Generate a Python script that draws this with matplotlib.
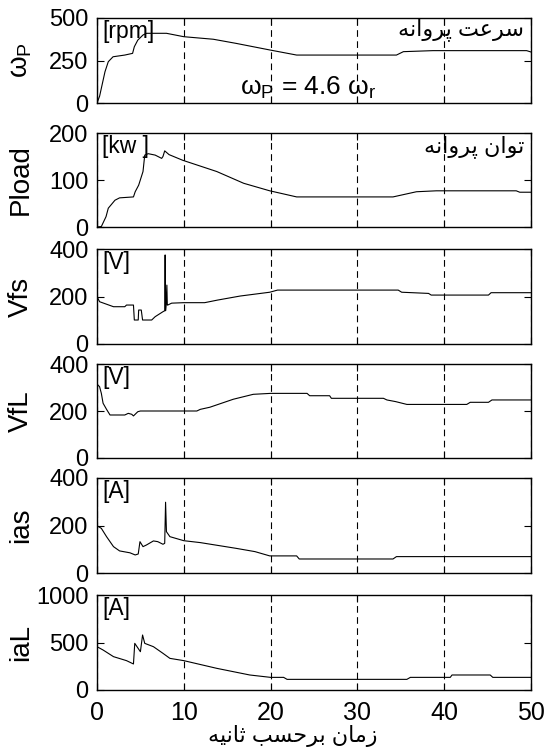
import matplotlib
matplotlib.use("Agg")
import matplotlib.pyplot as plt

plt.rcParams['font.family'] = ['Liberation Sans', 'DejaVu Sans']
plt.rcParams['mathtext.fontset'] = 'custom'
plt.rcParams['mathtext.rm'] = 'Liberation Sans'
plt.rcParams['mathtext.it'] = 'Liberation Sans:italic'
plt.rcParams['mathtext.bf'] = 'Liberation Sans:bold'

# ---- data ----
t_wp = [0, 0.3, 0.54, 0.92, 1.3, 1.85, 3.2, 4.1, 4.3, 4.7, 5.3, 5.7, 6.5, 8.0, 10, 13.4, 16, 19.9,
        23, 34.5, 35.3, 38.7, 49.5, 50]
wp = [0, 40, 96, 184, 243, 272, 282, 292, 331, 370, 400, 410, 410, 410, 390, 375, 351, 312,
      282, 282, 302, 308, 308, 300]

t_pload = [0, 0.5, 1.04, 1.3, 2.07, 2.6, 4.2, 4.4, 4.8, 5.3, 5.5, 5.9, 6.7, 7.45, 7.6, 7.8, 8.3,
           9.87, 13.8, 16.9, 19.9, 21.1, 23, 34.1, 36.8, 39.1, 48.3, 48.7, 50]
pload = [0, 1, 22, 40, 57, 62, 64, 75, 89, 118, 153, 156, 153, 146, 150, 162, 154,
         142, 118, 93, 77, 72, 64, 64, 75, 77, 77, 74, 74]

t_vfs = [0, 0.3, 1.9, 3.2, 3.4, 4.2, 4.3, 4.75, 4.8, 4.95, 5.1, 5.25, 6.3, 6.7, 7.6, 7.8, 7.85,
         7.9, 7.95, 8.05, 8.1, 8.15, 8.6, 10, 12.4, 13.9, 16.5, 19.9, 20.8, 34.7, 35.1, 38.2,
         38.5, 45.1, 45.4, 50]
vfs = [199, 178, 157, 157, 164, 164, 101, 101, 143, 143, 143, 101, 101, 115, 136, 140, 375,
       140, 160, 248, 164, 164, 172, 174, 174, 185, 202, 218, 227, 227, 218, 213,
       206, 206, 216, 216]

t_vfl = [0, 0.3, 0.5, 0.7, 1.1, 1.5, 3.2, 3.6, 4.0, 4.2, 4.7, 5.0, 11.5, 11.9, 13, 15.7, 18, 20,
         24.2, 24.5, 26.8, 27, 33, 33.4, 34.4, 35.7, 42.6, 43, 45.1, 45.5, 50]
vfl = [315, 303, 275, 233, 207, 183, 183, 190, 186, 179, 197, 200, 200, 207, 216, 250, 271, 275,
       275, 265, 265, 254, 254, 247, 240, 228, 228, 237, 237, 247, 247]

t_ias = [0, 0.5, 1.1, 1.9, 2.6, 3.8, 4.4, 4.75, 4.95, 5.3, 5.7, 6.5, 7.0, 7.6, 7.8, 7.9, 8.0,
         8.4, 10, 11.9, 16, 18.2, 19.9, 23, 23.3, 34.1, 34.5, 50]
ias = [199, 188, 153, 111, 93, 85, 76, 80, 132, 111, 118, 135, 132, 121, 125, 298, 174,
       153, 136, 128, 104, 90, 72, 72, 59, 59, 69, 69]

t_ial = [0, 0.7, 1.9, 3.4, 4.2, 4.35, 5.0, 5.25, 5.5, 6.5, 7.6, 8.4, 10, 13.8, 17.6, 20, 21.5,
         21.9, 35.7, 36.1, 40.7, 40.9, 45.3, 45.6, 50]
ial = [456, 421, 351, 309, 274, 491, 403, 579, 491, 456, 386, 333, 309, 228, 158, 133, 133,
       112, 112, 133, 133, 158, 158, 133, 133]

ylabels = [r'$\mathrm{\omega}_\mathrm{P}$', 'Pload', 'Vfs', 'VfL', 'ias', 'iaL']
units = ['[rpm]', '[kw ]', '[V]', '[V]', '[A]', '[A]']
yticks = [[0, 250, 500], [0, 100, 200], [0, 200, 400], [0, 200, 400], [0, 200, 400],
          [0, 500, 1000]]
xticks = [0, 10, 20, 30, 40, 50]

title_speed = 'سرعت پروانه'
title_power = 'توان پروانه'
xlabel_text = 'زمان برحسب ثانیه'
ratio_text = r'$\mathrm{\omega}_\mathrm{P}$ = 4.6 $\mathrm{\omega}_\mathrm{r}$'

# ---- Persian contextual shaping (presentation forms, visual order) ----
FORMS = {
    'ا': ('\uFE8D', '\uFE8E', None, None),
    'ب': ('\uFE8F', '\uFE90', '\uFE91', '\uFE92'),
    'ت': ('\uFE95', '\uFE96', '\uFE97', '\uFE98'),
    'ث': ('\uFE99', '\uFE9A', '\uFE9B', '\uFE9C'),
    'ح': ('\uFEA1', '\uFEA2', '\uFEA3', '\uFEA4'),
    'ر': ('\uFEAD', '\uFEAE', None, None),
    'ز': ('\uFEAF', '\uFEB0', None, None),
    'س': ('\uFEB1', '\uFEB2', '\uFEB3', '\uFEB4'),
    'ع': ('\uFEC9', '\uFECA', '\uFECB', '\uFECC'),
    'م': ('\uFEE1', '\uFEE2', '\uFEE3', '\uFEE4'),
    'ن': ('\uFEE5', '\uFEE6', '\uFEE7', '\uFEE8'),
    'ه': ('\uFEE9', '\uFEEA', '\uFEEB', '\uFEEC'),
    'و': ('\uFEED', '\uFEEE', None, None),
    'پ': ('\uFB56', '\uFB57', '\uFB58', '\uFB59'),
    'ی': ('\uFBFC', '\uFBFD', '\uFBFE', '\uFBFF'),
}


def shape(text):
    out = []
    for i, c in enumerate(text):
        if c not in FORMS:
            out.append(c)
            continue
        prev = text[i - 1] if i > 0 else None
        nxt = text[i + 1] if i + 1 < len(text) else None
        join_prev = prev in FORMS and FORMS[prev][2] is not None
        join_next = nxt in FORMS and FORMS[c][2] is not None
        iso, fin, ini, med = FORMS[c]
        if join_prev and join_next:
            out.append(med)
        elif join_prev:
            out.append(fin)
        elif join_next:
            out.append(ini)
        else:
            out.append(iso)
    return ''.join(reversed(out))


series = [(t_wp, wp), (t_pload, pload), (t_vfs, vfs), (t_vfl, vfl), (t_ias, ias), (t_ial, ial)]

W, H = 547, 749
fig = plt.figure(figsize=(W / 100, H / 100), dpi=100)

# panel extents in pixels (top, bottom)
rows = [(18, 103), (133, 227), (249, 344), (364, 458), (478, 573), (595, 690)]
left_px, right_px = 97, 531

axes = []
for i, ((top, bot), (tt, vv)) in enumerate(zip(rows, series)):
    ax = fig.add_axes([left_px / W, 1 - bot / H, (right_px - left_px) / W, (bot - top) / H])
    ax.plot(tt, vv, color='black', lw=0.8)
    ax.set_xlim(0, 50)
    ax.set_ylim(yticks[i][0], yticks[i][-1])
    ax.set_yticks(yticks[i])
    ax.set_xticks(xticks)
    ax.grid(axis='x', color='black', ls=(0, (6, 4)), lw=0.8)
    ax.tick_params(direction='in', top=True, right=True, length=5, width=0.8,
                   labelsize=17, pad=6)
    for s in ax.spines.values():
        s.set_linewidth(1.0)
    if i < 5:
        ax.tick_params(labelbottom=False)
    ax.set_ylabel(ylabels[i], fontsize=20)
    ax.yaxis.set_label_coords(-0.145, 0.5)
    ax.text(0.012, 0.98, units[i], transform=ax.transAxes, fontsize=16.5,
            ha='left', va='top')
    axes.append(ax)

axes[0].text(0.985, 1.0, shape(title_speed), transform=axes[0].transAxes, fontsize=16,
             ha='right', va='top')
axes[1].text(0.985, 0.98, shape(title_power), transform=axes[1].transAxes, fontsize=16,
             ha='right', va='top')
axes[0].text(24.3, 88, ratio_text, fontsize=19, ha='center', va='center')

axes[5].tick_params(axis='x', labelsize=18, pad=8)
axes[5].set_xlabel(shape(xlabel_text), fontsize=16)
axes[5].xaxis.set_label_coords((293 - left_px) / (right_px - left_px), -0.37)

fig.savefig('out.png', dpi=100)
